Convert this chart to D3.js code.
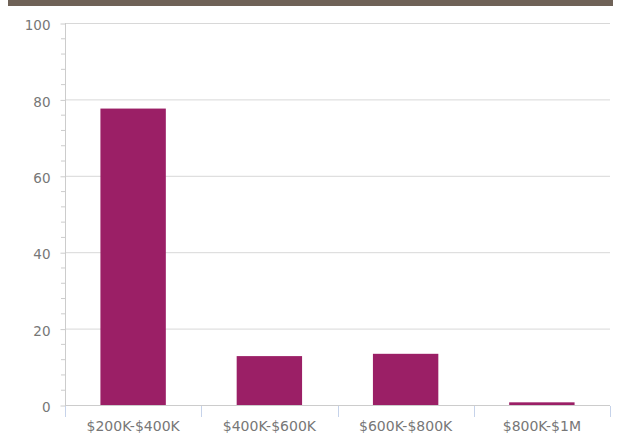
<!DOCTYPE html>
<html><head><meta charset="utf-8">
<script src="https://cdn.jsdelivr.net/npm/d3@7"></script>
<style>body{margin:0;background:#fff;} text{font-family:"DejaVu Sans",sans-serif;}</style>
</head><body>
<svg id="c" width="617" height="436"></svg>
<script>
const categories = ["$200K-$400K","$400K-$600K","$600K-$800K","$800K-$1M"];
const values = [77.6, 12.8, 13.4, 0.7];
const yTicks = [0,20,40,60,80,100];

const svg = d3.select("#c");
const m = {l:65, r:7, t:23, b:31};
const W = 617, H = 436;
svg.append("rect").attr("x",8).attr("y",0).attr("width",605).attr("height",6).attr("fill","#6f6257");

const x = d3.scaleBand().domain(categories).range([m.l, W-m.r]).paddingInner(0.52).paddingOuter(0.26);
const y = d3.scaleLinear().domain([0,100]).range([H-m.b, m.t]);

// gridlines
svg.append("g").selectAll("line").data(yTicks.filter(d=>d>0)).join("line")
  .attr("x1",m.l).attr("x2",W-m.r).attr("y1",d=>y(d)+0.5).attr("y2",d=>y(d)+0.5)
  .attr("stroke","#d8d8d8").attr("stroke-width",1);

// y axis
const ya = svg.append("g").attr("transform",`translate(${m.l+0.5},0)`)
  .call(d3.axisLeft(y).tickValues(yTicks).tickSize(5).tickPadding(10).tickFormat(d3.format("d")));
ya.select(".domain").attr("stroke","#cccccc").attr("d",`M0,${y(100)}V${y(0)}`);
ya.selectAll(".tick line").attr("stroke","#cccccc").attr("transform","translate(0,0.5)");
ya.selectAll(".tick text").attr("fill","#777").style("font-size","13.5px").attr("dy","0.5em");
const minor = d3.range(0,101,4).filter(d=>d%20!==0);
svg.append("g").selectAll("line").data(minor).join("line")
  .attr("x1",m.l-4).attr("x2",m.l).attr("y1",d=>y(d)+0.5).attr("y2",d=>y(d)+0.5)
  .attr("stroke","#cccccc");

// bars
svg.append("g").selectAll("rect").data(values).join("rect")
  .attr("x",(d,i)=>x(categories[i])).attr("width",x.bandwidth())
  .attr("y",d=>y(d)).attr("height",d=>y(0)-y(d))
  .attr("fill","#9b1f66");

// x axis
svg.append("line").attr("x1",m.l).attr("x2",W-m.r).attr("y1",y(0)+0.5).attr("y2",y(0)+0.5).attr("stroke","#cccccc");
const step = (W-m.r-m.l)/categories.length;
const bounds = d3.range(categories.length+1).map(i=>m.l+i*step);
svg.append("g").selectAll("line").data(bounds).join("line")
  .attr("x1",d=>Math.round(d)+0.5).attr("x2",d=>Math.round(d)+0.5)
  .attr("y1",y(0)+1).attr("y2",y(0)+12).attr("stroke","#c6d3ea");
svg.append("g").selectAll("text").data(categories).join("text")
  .attr("x",d=>x(d)+x.bandwidth()/2).attr("y",y(0)+25.5)
  .attr("text-anchor","middle").attr("fill","#777").style("font-size","14px").text(d=>d);
</script>
</body></html>
